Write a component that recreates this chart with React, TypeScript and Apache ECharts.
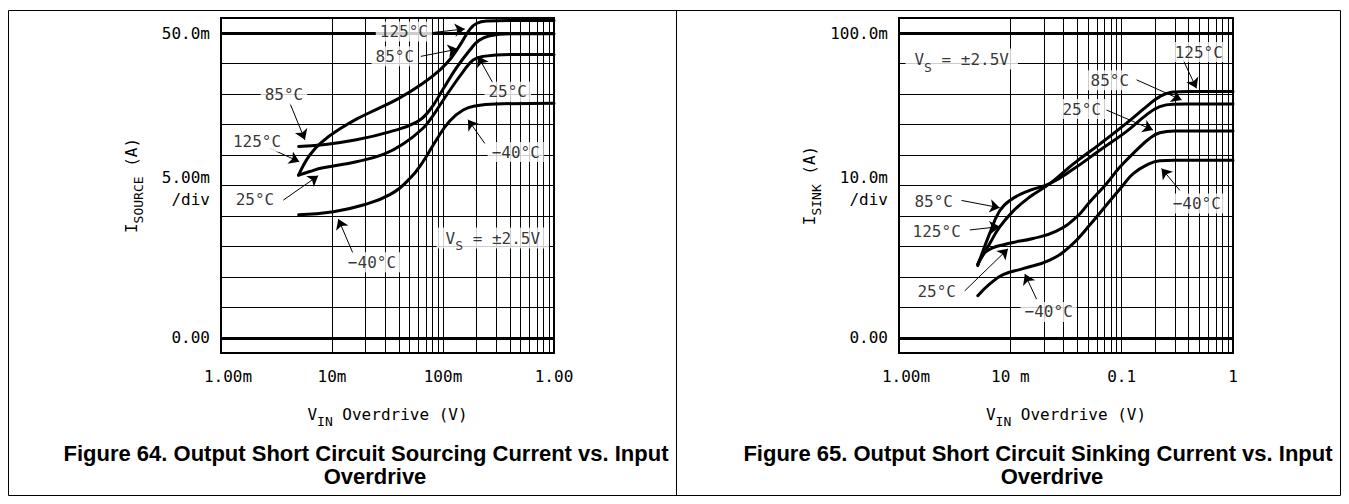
import { useEffect, useRef } from 'react';
import * as echarts from 'echarts';

const MONO = '"DejaVu Sans Mono", monospace';
const SANS = '"Liberation Sans", Arial, sans-serif';

// ---------- axis texts ----------
const SRC_X_LABELS = ['1.00m', '10m', '100m', '1.00'];
const SINK_X_LABELS = ['1.00m', '10 m', '0.1', '1'];
const SRC_Y_MAJOR = [0, 50];
const SRC_Y_LABELS = ['0.00', '50.0m'];
const SINK_Y_MAJOR = [0, 100];
const SINK_Y_LABELS = ['0.00', '100.0m'];

// ---------- grid lines ----------
const X_GRID = [
  0.002, 0.003, 0.004, 0.005, 0.006, 0.007, 0.008, 0.009,
  0.01, 0.02, 0.03, 0.04, 0.05, 0.06, 0.07, 0.08, 0.09,
  0.1, 0.2, 0.3, 0.4, 0.5, 0.6, 0.7, 0.8, 0.9,
];
const SRC_Y_GRID = [0, 5, 10, 15, 20, 25, 30, 35, 40, 45, 50];
const SINK_Y_GRID = [0, 10, 20, 30, 40, 50, 60, 70, 80, 90, 100];

// ---------- Figure 64: sourcing current (mA) vs overdrive (V) ----------
const SRC_125 = [
  [0.005, 26.7], [0.0063, 30.0], [0.0083, 32.3], [0.0118, 34.3], [0.0166, 35.9],
  [0.0252, 37.5], [0.04, 39.3], [0.066, 41.8], [0.094, 44.0], [0.118, 45.9],
  [0.145, 48.3], [0.174, 50.6], [0.2, 51.6], [0.25, 52.0], [0.4, 52.1], [1, 52.1],
];
const SRC_85 = [
  [0.005, 31.4], [0.0083, 31.7], [0.0166, 32.5], [0.033, 33.8], [0.0577, 35.4],
  [0.076, 37.4], [0.1, 40.8], [0.132, 44.3], [0.174, 47.2], [0.21, 48.8],
  [0.264, 49.6], [0.4, 49.9], [1, 49.9],
];
const SRC_25 = [
  [0.005, 26.7], [0.0063, 27.3], [0.0083, 27.9], [0.0166, 28.9], [0.029, 30.1],
  [0.0437, 31.8], [0.066, 34.4], [0.08, 36.3], [0.093, 38.1], [0.115, 40.6],
  [0.152, 43.7], [0.187, 45.6], [0.23, 46.2], [0.4, 46.5], [1, 46.5],
];
const SRC_M40 = [
  [0.005, 20.2], [0.0103, 20.7], [0.0191, 21.8], [0.0332, 23.5], [0.05, 26.1],
  [0.066, 28.9], [0.088, 32.6], [0.115, 35.6], [0.152, 37.4], [0.2, 38.1],
  [0.3, 38.4], [1, 38.5],
];

// ---------- Figure 65: sinking current (mA) vs overdrive (V) ----------
const SINK_125 = [
  [0.0051, 24.2], [0.0065, 30.8], [0.008, 36.3], [0.0106, 41.6], [0.0149, 46.2],
  [0.0226, 50.6], [0.0366, 57.0], [0.0636, 63.6], [0.11, 70.4], [0.167, 75.9],
  [0.22, 79.2], [0.29, 80.7], [0.4, 80.9], [1, 80.9],
];
const SINK_85 = [
  [0.0051, 23.7], [0.0065, 34.1], [0.008, 41.6], [0.0099, 45.1], [0.0149, 48.4],
  [0.0226, 50.6], [0.0366, 55.3], [0.0636, 61.6], [0.11, 67.7], [0.167, 73.2],
  [0.22, 75.9], [0.29, 76.7], [1, 76.8],
];
const SINK_25 = [
  [0.0051, 24.0], [0.0061, 28.4], [0.0092, 30.8], [0.016, 32.6], [0.0259, 35.0],
  [0.0393, 39.6], [0.0517, 44.6], [0.073, 50.6], [0.096, 56.0], [0.136, 61.6],
  [0.179, 65.5], [0.22, 67.3], [0.3, 67.9], [1, 67.9],
];
const SINK_M40 = [
  [0.0051, 13.8], [0.0065, 17.6], [0.0086, 20.7], [0.013, 22.7], [0.0226, 25.5],
  [0.0342, 29.9], [0.0517, 37.0], [0.073, 43.6], [0.103, 50.1], [0.127, 53.9],
  [0.167, 56.7], [0.22, 58.1], [0.3, 58.3], [1, 58.3],
];

// ---------- annotations (data coordinates: V, mA) ----------
const SRC_NOTES = [
  [0.0444, 50.3, '125°C'], [0.0368, 46.2, '85°C'], [0.383, 40.4, '25°C'], [0.452, 30.5, '−40°C'],
  [0.00369, 39.9, '85°C'], [0.00211, 32.2, '125°C'], [0.00202, 22.7, '25°C'], [0.0229, 12.4, '−40°C'],
  [0.281, 16.4, 'VS'],
];
const SRC_ARROWS = [
  [[0.0793, 50.1], [0.157, 50.7]],
  [[0.0631, 46.2], [0.136, 47.4]],
  [[0.282, 41.8], [0.207, 46.2]],
  [[0.238, 31.9], [0.168, 35.8]],
  [[0.00418, 38.5], [0.0057, 32.5]],
  [[0.00276, 31.1], [0.00507, 28.9]],
  [[0.00364, 22.6], [0.00751, 26.6]],
  [[0.0155, 13.8], [0.0114, 19.5]],
];
const SINK_NOTES = [
  [0.00366, 91.5, 'VS'], [0.493, 93.8, '125°C'], [0.0782, 84.6, '85°C'], [0.0438, 75.1, '25°C'],
  [0.473, 44.1, '−40°C'], [0.00205, 44.9, '85°C'], [0.00218, 35.0, '125°C'], [0.00218, 15.2, '25°C'],
  [0.0221, 8.5, '−40°C'],
];
const SINK_ARROWS = [
  [[0.356, 91.3], [0.47, 81.9]],
  [[0.136, 84.7], [0.345, 78.1]],
  [[0.073, 74.8], [0.191, 68.2]],
  [[0.333, 48.4], [0.228, 55.6]],
  [[0.00364, 45.1], [0.00803, 42.7]],
  [[0.00432, 35.4], [0.00803, 36.5]],
  [[0.00389, 15.4], [0.00953, 29.2]],
  [[0.0172, 12.7], [0.0135, 20.9]],
];

const subRich = {
  a: { fontFamily: MONO, fontSize: 16, lineHeight: 16, verticalAlign: 'top', color: '#000' },
  s: { fontFamily: MONO, fontSize: 13, lineHeight: 13, padding: [9, 0, 0, 0], verticalAlign: 'top', color: '#000' },
};

function curve(data: number[][], i: number) {
  return {
    type: 'line', data, xAxisIndex: i, yAxisIndex: i, symbol: 'none', showSymbol: false,
    smooth: 0.45, silent: true, z: 3,
    lineStyle: { color: '#000', width: 3, cap: 'round', join: 'round' },
  };
}

function gridSeries(i: number, yGrid: number[], yMajor: number[]) {
  return {
    type: 'line', data: [], xAxisIndex: i, yAxisIndex: i, silent: true, z: 1,
    markLine: {
      silent: true, symbol: 'none', z: 1, animation: false, label: { show: false },
      lineStyle: { color: '#000', width: 1, type: 'solid' },
      data: [
        ...X_GRID.map((v) => ({ xAxis: v, lineStyle: { color: '#000', width: 1, type: 'solid' } })),
        ...yGrid.map((v) => ({
          yAxis: v,
          lineStyle: { color: '#000', width: yMajor.includes(v) ? 3 : 1, type: 'solid' },
        })),
      ],
    },
  };
}

function arrowSeries(i: number, arrows: number[][][]) {
  return {
    type: 'line', data: [], xAxisIndex: i, yAxisIndex: i, silent: true, z: 5,
    markLine: {
      silent: true, z: 5, animation: false, symbol: ['none', 'arrow'], symbolSize: 10,
      label: { show: false },
      lineStyle: { color: '#000', width: 1, type: 'solid' },
      data: arrows.map(([a, b]) => [{ coord: a }, { coord: b }]),
    },
  };
}

function noteSeries(i: number, notes: any[]) {
  return {
    type: 'scatter', xAxisIndex: i, yAxisIndex: i, silent: true, z: 6,
    symbolSize: 1, itemStyle: { color: 'rgba(0,0,0,0)' },
    data: notes.map((n) => ({
      value: [n[0], n[1]], name: n[2],
      label: n[2] === 'VS' ? { padding: [3, 9, 2, 9] } : {},
    })),
    label: {
      show: true, position: 'inside', color: '#000', fontFamily: MONO, fontSize: 16,
      backgroundColor: '#fff', padding: [2, 4],
      formatter: (p: any) => (p.name === 'VS' ? '{a|V}{s|S}{a| = ±2.5V}' : p.name),
      rich: subRich,
    },
    labelLayout: { hideOverlap: false },
  };
}

function xAxis(i: number, labels: string[]) {
  return {
    type: 'log', logBase: 10, min: 0.001, max: 1, gridIndex: i,
    axisLine: { show: false }, axisTick: { show: false }, splitLine: { show: false },
    axisLabel: {
      margin: 15, color: '#000', fontFamily: MONO, fontSize: 16,
      formatter: (v: number) => {
        const k = Math.round(Math.log10(v)) + 3;
        const s = labels[k] ?? '';
        return k === 0 ? `{f|${s}}` : s;
      },
      rich: { f: { fontFamily: MONO, fontSize: 16, color: '#000', padding: [0, 0, 0, 14] } },
    },
    name: '{a|V}{s|IN}{a| Overdrive (V)}', nameLocation: 'middle', nameGap: 53,
    nameTextStyle: { rich: subRich },
  };
}

function yAxis(i: number, min: number, max: number, interval: number, major: number[], labels: string[], sub: string) {
  return {
    type: 'value', gridIndex: i, min, max, interval,
    axisLine: { show: false }, axisTick: { show: false }, splitLine: { show: false },
    axisLabel: {
      margin: 11, color: '#000', fontFamily: MONO, fontSize: 16,
      formatter: (v: number) => {
        const k = major.findIndex((m) => Math.abs(m - v) < 1e-6);
        return k >= 0 ? labels[k] : '';
      },
    },
    name: `{a|I}{s|${sub}}{a| (A)}`, nameLocation: 'middle', nameRotate: 90, nameGap: 82,
    nameTextStyle: { rich: subRich },
  };
}

function txt(text: string, x: number, y: number, font: string, align = 'center') {
  return {
    type: 'text', z: 10, silent: true,
    style: { text, x, y, font, fill: '#000', align, verticalAlign: 'middle', textAlign: align, textVerticalAlign: 'middle' },
  };
}

export default function App() {
  const ref = useRef<HTMLDivElement>(null);
  useEffect(() => {
    if (!ref.current) return;
    const chart = echarts.init(ref.current, undefined, { renderer: 'svg' });
    const mono16 = `16px ${MONO}`;
    const titleFont = `bold 22px ${SANS}`;
    chart.setOption({
      animation: false,
      backgroundColor: '#fff',
      grid: [
        { left: 221, top: 18, width: 333, height: 335, show: true, borderColor: '#000', borderWidth: 2, backgroundColor: 'transparent' },
        { left: 899, top: 18, width: 334, height: 335, show: true, borderColor: '#000', borderWidth: 2, backgroundColor: 'transparent' },
      ],
      xAxis: [xAxis(0, SRC_X_LABELS), xAxis(1, SINK_X_LABELS)],
      yAxis: [
        yAxis(0, -2.5, 52.5, 2.5, SRC_Y_MAJOR, SRC_Y_LABELS, 'SOURCE'),
        yAxis(1, -5, 105, 5, SINK_Y_MAJOR, SINK_Y_LABELS, 'SINK'),
      ],
      series: [
        gridSeries(0, SRC_Y_GRID, SRC_Y_MAJOR),
        gridSeries(1, SINK_Y_GRID, SINK_Y_MAJOR),
        curve(SRC_125, 0), curve(SRC_85, 0), curve(SRC_25, 0), curve(SRC_M40, 0),
        curve(SINK_125, 1), curve(SINK_85, 1), curve(SINK_25, 1), curve(SINK_M40, 1),
        arrowSeries(0, SRC_ARROWS), arrowSeries(1, SINK_ARROWS),
        noteSeries(0, SRC_NOTES), noteSeries(1, SINK_NOTES),
      ],
      graphic: [
        { type: 'rect', silent: true, shape: { x: 8.5, y: 10.5, width: 1332, height: 485 }, style: { fill: 'none', stroke: '#000', lineWidth: 1 } },
        { type: 'line', silent: true, shape: { x1: 676.5, y1: 10.5, x2: 676.5, y2: 495.5 }, style: { stroke: '#000', lineWidth: 1 } },
        txt('5.00m', 210, 177, mono16, 'right'),
        txt('/div', 210, 199, mono16, 'right'),
        txt('10.0m', 888, 177, mono16, 'right'),
        txt('/div', 888, 199, mono16, 'right'),
        txt('Figure 64. Output Short Circuit Sourcing Current vs. Input', 366, 453, titleFont),
        txt('Overdrive', 375, 476, titleFont),
        txt('Figure 65. Output Short Circuit Sinking Current vs. Input', 1038, 453, titleFont),
        txt('Overdrive', 1052, 476, titleFont),
      ],
    });
    return () => chart.dispose();
  }, []);
  return <div ref={ref} style={{ position: 'fixed', left: 0, top: 0, width: 1349, height: 504, background: '#fff' }} />;
}
